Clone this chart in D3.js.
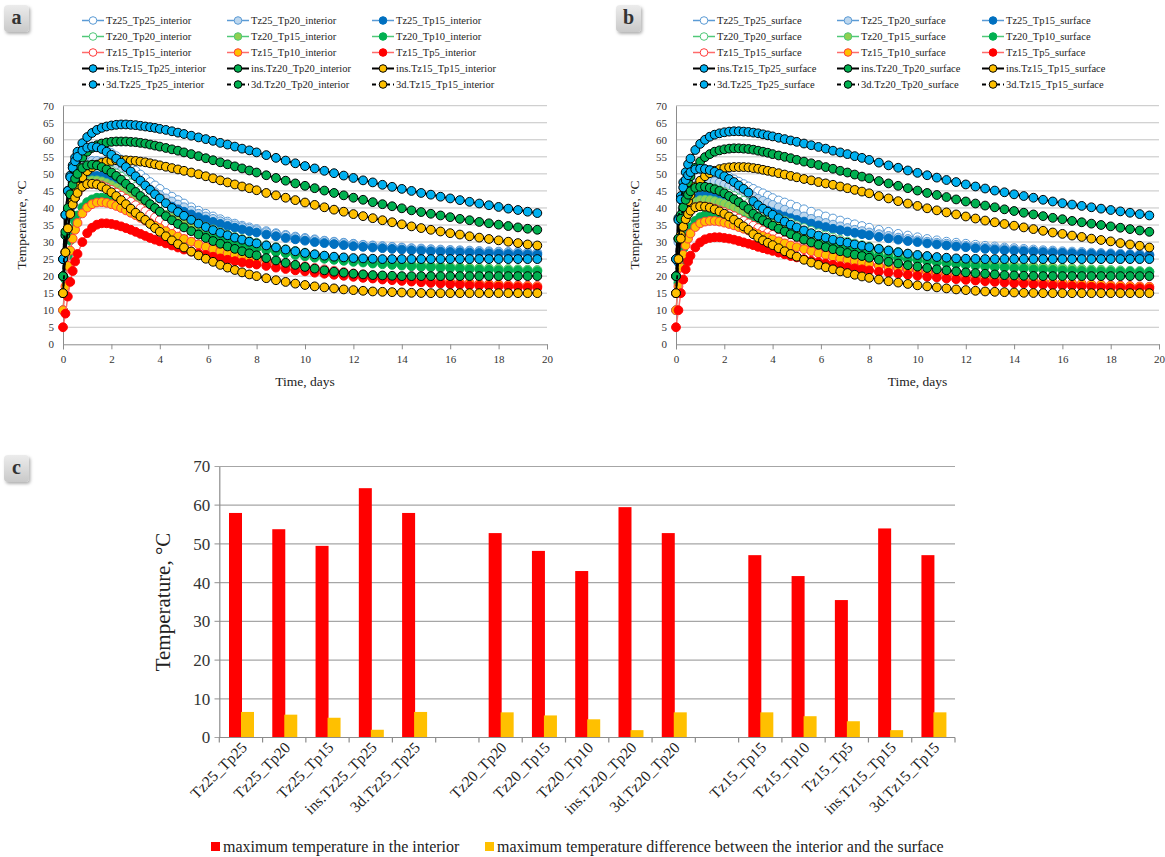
<!DOCTYPE html>
<html>
<head>
<meta charset="utf-8">
<script src="https://cdn.jsdelivr.net/npm/d3@7"></script>
<style>
  body { margin: 0; background: #fff; }
  svg, svg text { font-family: "Liberation Serif", "Times New Roman", serif; }
</style>
</head>
<body>
<svg id="chart" width="1165" height="857"></svg>
<script>
// time axis shared by every curve (days)
const days = [0, 0.1, 0.2, 0.3, 0.4, 0.5, 0.6, 0.8, 1.0, 1.2, 1.4, 1.6, 1.8, 2.0, 2.2, 2.4, 2.6, 2.8, 3.0, 3.2, 3.4, 3.6, 3.8, 4.0,
  4.25, 4.5, 4.75, 5.0, 5.3, 5.6, 5.9, 6.2, 6.5, 6.8, 7.1, 7.4, 7.7,
  8.0, 8.4, 8.8, 9.2, 9.6, 10.0, 10.4, 10.8, 11.2, 11.6, 12.0, 12.4, 12.8, 13.2, 13.6, 14.0, 14.4, 14.8, 15.2, 15.6, 16.0, 16.4, 16.8, 17.2, 17.6, 18.0, 18.4, 18.8, 19.2, 19.6];

const seriesNames = ["Tz25_Tp25", "Tz25_Tp20", "Tz25_Tp15", "Tz20_Tp20", "Tz20_Tp15", "Tz20_Tp10",
  "Tz15_Tp15", "Tz15_Tp10", "Tz15_Tp5", "ins.Tz15_Tp25", "ins.Tz20_Tp20", "ins.Tz15_Tp15",
  "3d.Tz25_Tp25", "3d.Tz20_Tp20", "3d.Tz15_Tp15"];

// ---- interior temperatures (panel a) ----
const tz25Tp25In = [25, 38, 45, 49, 51.8, 53.7, 55, 56.8, 57.7, 58, 57.9, 57.5, 56.9, 56.1, 55.2, 54.2, 53.1, 52, 50.9, 49.8, 48.7, 47.6, 46.6, 45.6,
  44.4, 43.3, 42.3, 41.3, 40.2, 39.2, 38.3, 37.5, 36.7, 36, 35.4, 34.8, 34.3,
  33.8, 33.2, 32.6, 32.1, 31.6, 31.2, 30.8, 30.4, 30.1, 29.8, 29.5, 29.2, 29, 28.8, 28.6, 28.4, 28.2, 28.1, 27.9, 27.8, 27.7, 27.6, 27.5, 27.4, 27.3, 27.2, 27.1, 27.1, 27, 26.9];
const tz25Tp20In = [20, 32, 39.5, 44, 47, 49, 50.5, 52.4, 53.4, 53.8, 53.8, 53.5, 53, 52.4, 51.6, 50.8, 49.9, 49, 48.1, 47.2, 46.3, 45.4, 44.6, 43.8,
  42.8, 41.9, 41, 40.2, 39.2, 38.3, 37.5, 36.8, 36.1, 35.5, 34.9, 34.4, 33.9,
  33.5, 32.9, 32.4, 31.9, 31.4, 31, 30.6, 30.3, 30, 29.7, 29.4, 29.1, 28.9, 28.7, 28.5, 28.3, 28.1, 27.9, 27.8, 27.6, 27.5, 27.4, 27.3, 27.2, 27.1, 27, 26.9, 26.9, 26.8, 26.7];
const tz25Tp15In = [15, 26, 33, 37.5, 40.8, 43.2, 45, 47.3, 48.6, 49.2, 49.4, 49.3, 49, 48.6, 48.1, 47.5, 46.9, 46.2, 45.5, 44.8, 44.1, 43.4, 42.7, 42,
  41.2, 40.4, 39.6, 38.9, 38.1, 37.3, 36.6, 35.9, 35.3, 34.7, 34.2, 33.7, 33.2,
  32.8, 32.2, 31.7, 31.2, 30.8, 30.4, 30, 29.7, 29.4, 29.1, 28.8, 28.6, 28.4, 28.2, 28, 27.8, 27.6, 27.5, 27.3, 27.2, 27.1, 27, 26.9, 26.8, 26.7, 26.6, 26.5, 26.5, 26.4, 26.3];
const tz20Tp20In = [20, 33, 40, 44, 46.8, 48.6, 50, 51.7, 52.5, 52.7, 52.6, 52.2, 51.6, 50.9, 50.1, 49.2, 48.2, 47.2, 46.2, 45.2, 44.2, 43.2, 42.3, 41.4,
  40.3, 39.3, 38.3, 37.4, 36.4, 35.4, 34.5, 33.7, 32.9, 32.2, 31.5, 30.9, 30.3,
  29.8, 29.1, 28.5, 27.9, 27.4, 26.9, 26.4, 26, 25.6, 25.3, 25, 24.7, 24.4, 24.2, 23.9, 23.7, 23.5, 23.3, 23.1, 23, 22.8, 22.7, 22.5, 22.4, 22.3, 22.2, 22.1, 22, 21.9, 21.8];
const tz20Tp15In = [15, 27, 34, 38.5, 41.6, 43.7, 45.2, 47, 47.9, 48.1, 48.1, 47.8, 47.3, 46.7, 46, 45.2, 44.4, 43.6, 42.8, 42, 41.2, 40.4, 39.6, 38.9,
  38, 37.1, 36.3, 35.5, 34.7, 33.9, 33.1, 32.4, 31.7, 31.1, 30.5, 30, 29.5,
  29, 28.4, 27.9, 27.4, 26.9, 26.5, 26.1, 25.7, 25.4, 25.1, 24.8, 24.5, 24.3, 24, 23.8, 23.6, 23.4, 23.2, 23, 22.9, 22.7, 22.6, 22.4, 22.3, 22.2, 22.1, 22, 21.9, 21.8, 21.7];
const tz20Tp10In = [10, 19, 26, 30.5, 33.6, 36, 37.8, 40.2, 41.7, 42.5, 43, 43, 42.8, 42.5, 42, 41.5, 40.9, 40.3, 39.7, 39, 38.4, 37.7, 37.1, 36.5,
  35.8, 35.1, 34.4, 33.8, 33.1, 32.4, 31.7, 31.1, 30.5, 30, 29.5, 29, 28.6,
  28.2, 27.6, 27.1, 26.7, 26.2, 25.8, 25.4, 25.1, 24.8, 24.5, 24.2, 24, 23.7, 23.5, 23.3, 23.1, 22.9, 22.7, 22.6, 22.4, 22.3, 22.2, 22, 21.9, 21.8, 21.7, 21.6, 21.6, 21.5, 21.4];
const tz15Tp15In = [15, 27, 34, 38.2, 41, 43, 44.4, 46.2, 47, 47.1, 47, 46.6, 46, 45.3, 44.5, 43.6, 42.7, 41.8, 40.8, 39.9, 39, 38.1, 37.2, 36.4,
  35.4, 34.4, 33.5, 32.7, 31.7, 30.8, 29.9, 29.1, 28.4, 27.7, 27.1, 26.5, 26,
  25.5, 24.9, 24.3, 23.8, 23.3, 22.9, 22.4, 22, 21.6, 21.2, 20.8, 20.5, 20.2, 19.9, 19.6, 19.3, 19.1, 18.9, 18.7, 18.5, 18.3, 18.1, 18, 17.8, 17.7, 17.6, 17.4, 17.3, 17.2, 17.1];
const tz15Tp10In = [10, 17, 23, 27.5, 31, 33.6, 35.6, 38.4, 40.1, 41.1, 41.6, 41.7, 41.5, 41.1, 40.6, 40, 39.3, 38.6, 37.9, 37.1, 36.3, 35.6, 34.8, 34.1,
  33.2, 32.4, 31.6, 30.9, 30.1, 29.3, 28.6, 27.9, 27.3, 26.7, 26.2, 25.7, 25.2,
  24.8, 24.2, 23.7, 23.2, 22.8, 22.4, 22, 21.6, 21.2, 20.9, 20.6, 20.3, 20, 19.7, 19.5, 19.2, 19, 18.8, 18.6, 18.4, 18.2, 18, 17.9, 17.7, 17.6, 17.5, 17.3, 17.2, 17.1, 17];
const tz15Tp5In = [5, 9, 14, 18.3, 21.5, 24.3, 26.5, 30, 32.6, 34.2, 35.1, 35.5, 35.5, 35.3, 35, 34.6, 34.1, 33.6, 33, 32.4, 31.8, 31.2, 30.7, 30.2,
  29.6, 29, 28.4, 27.8, 27.2, 26.7, 26.2, 25.7, 25.2, 24.8, 24.4, 24, 23.7,
  23.4, 23, 22.5, 22.1, 21.7, 21.4, 21, 20.7, 20.4, 20.1, 19.8, 19.5, 19.3, 19, 18.8, 18.6, 18.4, 18.2, 18, 17.8, 17.6, 17.5, 17.3, 17.2, 17.1, 17, 16.9, 16.8, 16.7, 16.6];
const insTz15Tp25In = [25, 38, 45, 49.5, 52.5, 54.8, 56.5, 59, 60.8, 62, 62.9, 63.5, 63.9, 64.2, 64.4, 64.5, 64.5, 64.4, 64.3, 64.1, 63.9, 63.7, 63.5, 63.2,
  62.9, 62.5, 62.1, 61.7, 61.2, 60.7, 60.2, 59.7, 59.1, 58.6, 58, 57.4, 56.9,
  56.3, 55.5, 54.7, 53.9, 53.1, 52.3, 51.6, 50.9, 50.2, 49.5, 48.8, 48.1, 47.5, 46.8, 46.2, 45.6, 45, 44.4, 43.9, 43.3, 42.8, 42.3, 41.8, 41.3, 40.8, 40.3, 39.8, 39.4, 38.9, 38.5];
const insTz20Tp20In = [20, 32, 39.5, 44, 47.5, 50, 52, 54.8, 56.5, 57.6, 58.4, 58.9, 59.2, 59.4, 59.5, 59.5, 59.5, 59.4, 59.3, 59.1, 58.9, 58.6, 58.3, 58,
  57.6, 57.2, 56.8, 56.3, 55.8, 55.2, 54.6, 54, 53.4, 52.8, 52.2, 51.6, 51,
  50.4, 49.6, 48.8, 48, 47.2, 46.5, 45.8, 45.1, 44.4, 43.7, 43, 42.4, 41.7, 41.1, 40.5, 39.9, 39.3, 38.8, 38.3, 37.8, 37.3, 36.8, 36.4, 35.9, 35.5, 35.1, 34.7, 34.3, 33.9, 33.6];
const insTz15Tp15In = [15, 27, 34, 38.5, 42, 44.5, 46.3, 49, 50.8, 51.9, 52.7, 53.2, 53.6, 53.8, 54, 54, 54, 53.9, 53.8, 53.6, 53.4, 53.1, 52.8, 52.5,
  52.1, 51.7, 51.3, 50.9, 50.4, 49.9, 49.3, 48.7, 48.1, 47.5, 46.9, 46.3, 45.8,
  45.2, 44.4, 43.7, 43, 42.3, 41.6, 40.9, 40.2, 39.5, 38.9, 38.2, 37.6, 37, 36.4, 35.8, 35.2, 34.6, 34.1, 33.6, 33.1, 32.6, 32.2, 31.7, 31.3, 30.9, 30.5, 30.1, 29.7, 29.3, 29];
const d3Tz25Tp25In = [25, 38, 45, 49, 51.8, 53.7, 55, 56.8, 57.7, 58, 57.8, 57.3, 56.5, 55.6, 54.5, 53.3, 52, 50.7, 49.3, 48, 46.6, 45.3, 44, 42.8,
  41.4, 40, 38.8, 37.7, 36.5, 35.4, 34.4, 33.5, 32.7, 32, 31.3, 30.7, 30.1,
  29.6, 29, 28.4, 27.8, 27.3, 26.8, 26.4, 26, 25.7, 25.5, 25.3, 25.2, 25.1, 25, 25, 25, 25, 25, 25, 25, 25, 25, 25, 25, 25, 25, 25, 25, 25, 25];
const d3Tz20Tp20In = [20, 33, 40, 44, 46.8, 48.6, 50, 51.7, 52.5, 52.7, 52.5, 52, 51.3, 50.4, 49.4, 48.3, 47.1, 45.9, 44.7, 43.5, 42.3, 41.1, 40, 38.9,
  37.6, 36.4, 35.3, 34.3, 33.2, 32.2, 31.2, 30.3, 29.5, 28.7, 28, 27.3, 26.7,
  26.1, 25.3, 24.6, 23.9, 23.3, 22.7, 22.2, 21.7, 21.3, 21, 20.7, 20.5, 20.3, 20.2, 20.1, 20, 20, 20, 20, 20, 20, 20, 20, 20, 20, 20, 20, 20, 20, 20];
const d3Tz15Tp15In = [15, 27, 34, 38.2, 41, 43, 44.4, 46.2, 47, 47.1, 46.9, 46.3, 45.5, 44.6, 43.5, 42.3, 41.1, 39.8, 38.6, 37.5, 36.5, 35.3, 34.1, 33,
  31.7, 30.5, 29.4, 28.4, 27.2, 26.1, 25.1, 24.2, 23.3, 22.5, 21.8, 21.1, 20.5,
  20, 19.4, 18.8, 18.3, 17.8, 17.4, 17, 16.7, 16.4, 16.1, 15.9, 15.7, 15.5, 15.4, 15.3, 15.2, 15.1, 15.05, 15, 15, 15, 15, 15, 15, 15, 15, 15, 15, 15, 15];

// ---- surface temperatures (panel b) ----
const tz25Tp25Sf = [25, 36.5, 42.5, 46, 48.2, 49.6, 50.5, 51.3, 51.5, 51.4, 51.2, 50.8, 50.3, 49.7, 49.1, 48.4, 47.7, 47, 46.3, 45.6, 44.9, 44.3, 43.6, 42.9,
  42.2, 41.6, 41, 40.3, 39.6, 38.9, 38.2, 37.5, 36.9, 36.3, 35.7, 35.2, 34.7,
  34.2, 33.6, 33, 32.4, 31.9, 31.4, 30.9, 30.5, 30.1, 29.8, 29.5, 29.2, 28.9, 28.7, 28.4, 28.2, 28, 27.8, 27.6, 27.5, 27.3, 27.2, 27.1, 26.9, 26.8, 26.7, 26.6, 26.5, 26.5, 26.4];
const tz25Tp20Sf = [20, 30, 36, 39.8, 42.5, 44.4, 45.7, 47.2, 47.9, 48.1, 48, 47.8, 47.4, 46.9, 46.4, 45.8, 45.2, 44.6, 44, 43.4, 42.7, 42.1, 41.5, 40.9,
  40.2, 39.5, 38.8, 38.2, 37.5, 36.8, 36.2, 35.6, 35.1, 34.6, 34.1, 33.6, 33.2,
  32.8, 32.3, 31.8, 31.3, 30.9, 30.5, 30.1, 29.8, 29.5, 29.2, 28.9, 28.6, 28.4, 28.2, 28, 27.8, 27.6, 27.4, 27.3, 27.2, 27, 26.9, 26.8, 26.7, 26.6, 26.5, 26.4, 26.3, 26.3, 26.2];
const tz25Tp15Sf = [15, 24, 30, 34, 37, 39.2, 40.8, 42.8, 43.9, 44.4, 44.5, 44.4, 44.1, 43.8, 43.4, 42.9, 42.4, 41.9, 41.4, 40.8, 40.3, 39.7, 39.2, 38.7,
  38.1, 37.5, 37, 36.5, 36, 35.4, 34.9, 34.4, 33.9, 33.5, 33.1, 32.7, 32.3,
  32, 31.5, 31.1, 30.7, 30.3, 30, 29.6, 29.3, 29, 28.7, 28.5, 28.2, 28, 27.8, 27.6, 27.5, 27.3, 27.2, 27, 26.9, 26.8, 26.7, 26.6, 26.5, 26.4, 26.4, 26.3, 26.2, 26.1, 26.1];
const tz20Tp20Sf = [20, 31, 36.8, 40.2, 42.4, 43.9, 44.9, 45.9, 46.2, 46.2, 46, 45.7, 45.2, 44.7, 44.1, 43.5, 42.8, 42.1, 41.4, 40.7, 40, 39.3, 38.6, 37.9,
  37.1, 36.3, 35.6, 34.9, 34.1, 33.3, 32.6, 31.9, 31.3, 30.7, 30.1, 29.6, 29.1,
  28.7, 28.1, 27.6, 27.1, 26.6, 26.2, 25.8, 25.4, 25.1, 24.8, 24.5, 24.2, 24, 23.7, 23.5, 23.3, 23.1, 22.9, 22.7, 22.6, 22.4, 22.3, 22.1, 22, 21.9, 21.8, 21.7, 21.6, 21.5, 21.4];
const tz20Tp15Sf = [15, 25, 31, 35, 37.6, 39.4, 40.6, 41.8, 42.3, 42.4, 42.3, 42, 41.6, 41.2, 40.7, 40.2, 39.6, 39.1, 38.5, 37.9, 37.3, 36.7, 36.2, 35.6,
  35, 34.3, 33.7, 33.1, 32.4, 31.8, 31.2, 30.6, 30.1, 29.6, 29.1, 28.6, 28.2,
  27.8, 27.3, 26.8, 26.4, 26, 25.6, 25.3, 25, 24.7, 24.4, 24.1, 23.9, 23.6, 23.4, 23.2, 23, 22.8, 22.7, 22.5, 22.4, 22.2, 22.1, 22, 21.9, 21.8, 21.7, 21.6, 21.5, 21.4, 21.3];
const tz20Tp10Sf = [10, 18, 24, 28, 30.8, 32.8, 34.3, 36.2, 37.3, 37.9, 38.2, 38.3, 38.2, 38, 37.7, 37.3, 36.9, 36.4, 35.9, 35.4, 34.9, 34.4, 33.9, 33.4,
  32.8, 32.2, 31.7, 31.1, 30.5, 29.9, 29.4, 28.9, 28.4, 28, 27.6, 27.2, 26.8,
  26.5, 26, 25.6, 25.2, 24.9, 24.6, 24.3, 24, 23.7, 23.5, 23.2, 23, 22.8, 22.6, 22.5, 22.3, 22.2, 22, 21.9, 21.8, 21.7, 21.6, 21.5, 21.5, 21.4, 21.4, 21.3, 21.3, 21.2, 21.2];
const tz15Tp15Sf = [15, 25, 31, 34.5, 36.7, 38.2, 39.2, 40.2, 40.5, 40.4, 40.2, 39.8, 39.3, 38.8, 38.2, 37.6, 36.9, 36.2, 35.5, 34.8, 34.1, 33.4, 32.7, 32.1,
  31.3, 30.5, 29.8, 29.1, 28.4, 27.7, 27, 26.4, 25.8, 25.3, 24.8, 24.3, 23.9,
  23.5, 23, 22.5, 22.1, 21.7, 21.3, 21, 20.7, 20.4, 20.1, 19.8, 19.6, 19.3, 19.1, 18.9, 18.7, 18.5, 18.3, 18.1, 18, 17.8, 17.7, 17.5, 17.4, 17.3, 17.2, 17.1, 17, 16.9, 16.8];
const tz15Tp10Sf = [10, 17, 22.5, 26.3, 29, 31, 32.5, 34.4, 35.5, 36, 36.2, 36.2, 36, 35.7, 35.3, 34.9, 34.4, 33.9, 33.4, 32.9, 32.3, 31.8, 31.3, 30.8,
  30.2, 29.6, 29, 28.5, 27.9, 27.3, 26.7, 26.2, 25.7, 25.2, 24.8, 24.4, 24,
  23.6, 23.1, 22.7, 22.3, 21.9, 21.6, 21.2, 20.9, 20.6, 20.3, 20.1, 19.8, 19.6, 19.4, 19.2, 19, 18.8, 18.6, 18.4, 18.2, 18.1, 17.9, 17.8, 17.6, 17.5, 17.3, 17.2, 17.1, 17, 16.9];
const tz15Tp5Sf = [5, 10, 15, 19, 22, 24.3, 26, 28.4, 29.9, 30.8, 31.2, 31.4, 31.4, 31.2, 31, 30.7, 30.3, 29.9, 29.5, 29.1, 28.6, 28.2, 27.8, 27.4,
  26.9, 26.4, 25.9, 25.5, 25, 24.5, 24.1, 23.7, 23.3, 22.9, 22.6, 22.3, 22,
  21.7, 21.3, 21, 20.7, 20.4, 20.1, 19.8, 19.6, 19.3, 19.1, 18.9, 18.7, 18.5, 18.3, 18.1, 17.9, 17.8, 17.6, 17.5, 17.3, 17.2, 17.1, 17, 16.9, 16.8, 16.7, 16.6, 16.5, 16.5, 16.4];
const insTz15Tp25Sf = [25, 37, 43.5, 47.5, 50.5, 52.8, 54.5, 57, 58.8, 60, 60.9, 61.5, 61.9, 62.2, 62.4, 62.5, 62.5, 62.4, 62.3, 62.1, 61.9, 61.6, 61.3, 61,
  60.6, 60.2, 59.8, 59.4, 58.9, 58.4, 57.9, 57.4, 56.8, 56.3, 55.8, 55.2, 54.7,
  54.1, 53.3, 52.5, 51.8, 51, 50.3, 49.6, 48.9, 48.2, 47.6, 46.9, 46.3, 45.7, 45.1, 44.6, 44, 43.5, 43, 42.4, 41.9, 41.4, 41, 40.6, 40.2, 39.8, 39.4, 39, 38.6, 38.2, 37.8];
const insTz20Tp20Sf = [20, 31, 38, 42.2, 45.2, 47.5, 49.3, 51.8, 53.6, 54.9, 55.8, 56.5, 56.9, 57.2, 57.4, 57.5, 57.5, 57.4, 57.3, 57.1, 56.8, 56.5, 56.2, 55.8,
  55.4, 55, 54.6, 54.1, 53.6, 53.1, 52.6, 52, 51.5, 50.9, 50.4, 49.8, 49.2,
  48.7, 47.9, 47.2, 46.5, 45.8, 45.1, 44.4, 43.8, 43.2, 42.5, 41.9, 41.3, 40.7, 40.2, 39.6, 39.1, 38.6, 38.1, 37.6, 37.1, 36.7, 36.2, 35.8, 35.4, 35, 34.6, 34.2, 33.8, 33.4, 33];
const insTz15Tp15Sf = [15, 25, 32, 36.5, 39.7, 42, 43.8, 46.3, 48, 49.3, 50.2, 50.9, 51.4, 51.7, 51.9, 52, 52, 52, 51.9, 51.7, 51.5, 51.2, 50.9, 50.6,
  50.2, 49.8, 49.4, 49, 48.5, 48.1, 47.6, 47.2, 46.8, 46.3, 45.8, 45.3, 44.8,
  44.3, 43.5, 42.8, 42, 41.3, 40.6, 39.9, 39.3, 38.7, 38.1, 37.5, 36.9, 36.3, 35.8, 35.3, 34.8, 34.3, 33.8, 33.3, 32.8, 32.4, 31.9, 31.5, 31, 30.6, 30.2, 29.7, 29.3, 28.9, 28.4];
const d3Tz25Tp25Sf = [25, 36.5, 42.5, 46, 48.2, 49.6, 50.5, 51.3, 51.5, 51.4, 51.1, 50.6, 50, 49.3, 48.5, 47.6, 46.6, 45.6, 44.5, 42, 40.8, 39.8, 38.9, 38,
  37, 36, 35.1, 34.3, 33.4, 32.6, 31.9, 31.3, 30.7, 30.2, 29.8, 29.3, 28.9,
  28.5, 28, 27.5, 27, 26.6, 26.2, 25.9, 25.6, 25.4, 25.2, 25.1, 25.05, 25, 25, 25, 25, 25, 25, 25, 25, 25, 25, 25, 25, 25, 25, 25, 25, 25, 25];
const d3Tz20Tp20Sf = [20, 31, 36.8, 40.2, 42.4, 43.9, 44.9, 45.9, 46.2, 46.2, 45.9, 45.5, 45, 44.3, 43.5, 42.6, 41.7, 40.7, 39.7, 38.3, 37.3, 36.4, 35.6, 34.8,
  33.9, 33.1, 32.3, 31.5, 30.7, 29.9, 29.2, 28.5, 27.9, 27.3, 26.8, 26.3, 25.9,
  25.4, 24.8, 24.2, 23.7, 23.2, 22.8, 22.4, 22, 21.7, 21.4, 21.1, 20.9, 20.7, 20.5, 20.3, 20.2, 20.1, 20.05, 20, 20, 20, 20, 20, 20, 20, 20, 20, 20, 20, 20];
const d3Tz15Tp15Sf = [15, 25, 31, 34.5, 36.7, 38.2, 39.2, 40.2, 40.5, 40.4, 40.1, 39.6, 39, 38.3, 37.5, 36.6, 35.6, 34.6, 33.6, 32.3, 31.3, 30.5, 29.8, 29.1,
  28.2, 27.3, 26.5, 25.7, 24.8, 24, 23.3, 22.6, 22, 21.4, 20.9, 20.4, 19.9,
  19.5, 19, 18.5, 18.1, 17.7, 17.3, 17, 16.7, 16.4, 16.1, 15.9, 15.7, 15.5, 15.4, 15.3, 15.2, 15.1, 15.05, 15, 15, 15, 15, 15, 15, 15, 15, 15, 15, 15, 15];

const interiorValues = [tz25Tp25In, tz25Tp20In, tz25Tp15In, tz20Tp20In, tz20Tp15In, tz20Tp10In, tz15Tp15In, tz15Tp10In, tz15Tp5In,
  insTz15Tp25In, insTz20Tp20In, insTz15Tp15In, d3Tz25Tp25In, d3Tz20Tp20In, d3Tz15Tp15In];
const surfaceValues = [tz25Tp25Sf, tz25Tp20Sf, tz25Tp15Sf, tz20Tp20Sf, tz20Tp15Sf, tz20Tp10Sf, tz15Tp15Sf, tz15Tp10Sf, tz15Tp5Sf,
  insTz15Tp25Sf, insTz20Tp20Sf, insTz15Tp15Sf, d3Tz25Tp25Sf, d3Tz20Tp20Sf, d3Tz15Tp15Sf];

// ---- panel c ----
const barCategories = ["Tz25_Tp25", "Tz25_Tp20", "Tz25_Tp15", "ins.Tz25_Tp25", "3d.Tz25_Tp25", "",
  "Tz20_Tp20", "Tz20_Tp15", "Tz20_Tp10", "ins.Tz20_Tp20", "3d.Tz20_Tp20", "",
  "Tz15_Tp15", "Tz15_Tp10", "Tz15_Tp5", "ins.Tz15_Tp15", "3d.Tz15_Tp15"];
const maxInterior = [58, 53.8, 49.5, 64.4, 58, null, 52.8, 48.2, 43, 59.5, 52.8, null, 47.1, 41.7, 35.5, 54, 47.1];
const maxDifference = [6.6, 5.9, 5.1, 2, 6.6, null, 6.5, 5.7, 4.7, 1.9, 6.5, null, 6.5, 5.5, 4.2, 1.9, 6.5];
const barLegend = ["maximum temperature in the interior", "maximum temperature difference between the interior and the surface"];

const xTicksA = d3.range(0, 21, 2);
const yTicksA = d3.range(0, 71, 5);
const yTicksC = d3.range(0, 71, 10);

// ---- styles ----
const serif = "Liberation Serif";
const styles = [
  { line: "#5B9BD5", fill: "#fff", stroke: "#5B9BD5" },
  { line: "#5B9BD5", fill: "#BDD7EE", stroke: "#5B9BD5" },
  { line: "#5B9BD5", fill: "#0070C0", stroke: "#0070C0" },
  { line: "#50C878", fill: "#fff", stroke: "#50C878" },
  { line: "#50C878", fill: "#92D050", stroke: "#50C878" },
  { line: "#50C878", fill: "#00B050", stroke: "#00B050" },
  { line: "#FF6B6B", fill: "#fff", stroke: "#FF3B3B" },
  { line: "#FF6B6B", fill: "#FFC000", stroke: "#FF3B3B" },
  { line: "#FF6B6B", fill: "#FF0000", stroke: "#FF0000" },
  { line: "#000", fill: "#00B0F0", stroke: "#000" },
  { line: "#000", fill: "#00B050", stroke: "#000" },
  { line: "#000", fill: "#FFC000", stroke: "#000" },
  { line: "#000", fill: "#00B0F0", stroke: "#000", dash: "4,3" },
  { line: "#000", fill: "#00B050", stroke: "#000", dash: "4,3" },
  { line: "#000", fill: "#FFC000", stroke: "#000", dash: "4,3" }
];

const svg = d3.select("#chart");

// drop shadow for the panel letters
const defs = svg.append("defs");
const grad = defs.append("linearGradient").attr("id", "badge").attr("x1", 0).attr("y1", 0).attr("x2", 0).attr("y2", 1);
grad.append("stop").attr("offset", "0%").attr("stop-color", "#ececec");
grad.append("stop").attr("offset", "100%").attr("stop-color", "#c9c9c9");
const shadow = defs.append("filter").attr("id", "shadow").attr("x", "-30%").attr("y", "-30%").attr("width", "170%").attr("height", "170%");
shadow.append("feDropShadow").attr("dx", 1.5).attr("dy", 2).attr("stdDeviation", 1.5).attr("flood-color", "#000").attr("flood-opacity", 0.3);

function badge(x, y, letter) {
  svg.append("rect").attr("x", x).attr("y", y).attr("width", 25).attr("height", 27).attr("rx", 4)
    .attr("fill", "url(#badge)").attr("filter", "url(#shadow)");
  svg.append("text").attr("x", x + 12.5).attr("y", y + 19).attr("text-anchor", "middle")
    .attr("font-family", serif).attr("font-size", 20).attr("font-weight", "bold").attr("fill", "#333").text(letter);
}

function linePanel(opts) {
  const x = d3.scaleLinear().domain([0, 20]).range([opts.left, opts.right]);
  const y = d3.scaleLinear().domain([0, 70]).range([344.3, 105.7]);
  const g = svg.append("g");

  g.append("g").selectAll("line").data(yTicksA.slice(1)).join("line")
    .attr("x1", opts.left).attr("x2", opts.right)
    .attr("y1", d => y(d)).attr("y2", d => y(d))
    .attr("stroke", "#c4c4c4").attr("stroke-width", 1);

  // x axis
  g.append("g").attr("transform", `translate(0,${y(0)})`)
    .call(d3.axisBottom(x).tickValues(xTicksA).tickSize(5).tickPadding(6))
    .call(a => a.select(".domain").attr("stroke", "#8c8c8c"))
    .call(a => a.selectAll(".tick line").attr("stroke", "#8c8c8c"))
    .call(a => a.selectAll("text").attr("font-size", 11).attr("fill", "#333").attr("font-family", serif));

  // y axis
  g.append("g").attr("transform", `translate(${opts.left},0)`)
    .call(d3.axisLeft(y).tickValues(yTicksA).tickSize(0).tickPadding(9))
    .call(a => a.select(".domain").attr("stroke", "#8c8c8c"))
    .call(a => a.selectAll("text").attr("font-size", 11).attr("fill", "#333").attr("font-family", serif));

  g.append("text").attr("x", (opts.left + opts.right) / 2).attr("y", 386)
    .attr("text-anchor", "middle").attr("font-family", serif).attr("font-size", 13.5).attr("fill", "#222").text("Time, days");
  g.append("text").attr("transform", `translate(${opts.left - 37},225) rotate(-90)`)
    .attr("text-anchor", "middle").attr("font-family", serif).attr("font-size", 13.5).attr("fill", "#222").text("Temperature, °C");

  const line = d3.line().x((d, i) => x(days[i])).y(d => y(d));

  opts.values.forEach((vals, k) => {
    const s = styles[k];
    const sg = g.append("g");
    sg.append("path").datum(vals).attr("d", line).attr("fill", "none")
      .attr("stroke", s.line).attr("stroke-width", s.line === "#000" ? 1.8 : 1.5)
      .attr("stroke-dasharray", s.dash || null);
    sg.selectAll("circle").data(vals).join("circle")
      .attr("cx", (d, i) => x(days[i])).attr("cy", d => y(d))
      .attr("r", 4.4).attr("fill", s.fill).attr("stroke", s.stroke).attr("stroke-width", 1);
  });

  // legend
  const lg = svg.append("g");
  seriesNames.forEach((name, k) => {
    const s = styles[k];
    const lx = opts.legendX[k % 3];
    const ly = 20.5 + Math.floor(k / 3) * 16;
    lg.append("line").attr("x1", lx).attr("x2", lx + 22).attr("y1", ly).attr("y2", ly)
      .attr("stroke", s.line).attr("stroke-width", s.line === "#000" ? 2 : 1.5)
      .attr("stroke-dasharray", s.dash || null);
    lg.append("circle").attr("cx", lx + 11).attr("cy", ly).attr("r", 3.8)
      .attr("fill", s.fill).attr("stroke", s.stroke).attr("stroke-width", 1);
    lg.append("text").attr("x", lx + 24).attr("y", ly + 3.8).attr("font-family", serif)
      .attr("font-size", 10.5).attr("fill", "#222").text(name + opts.suffix);
  });
}

badge(4, 5, "a");
badge(616, 5, "b");
badge(4, 455, "c");

linePanel({ left: 63, right: 547, values: interiorValues, legendX: [82, 227, 372], suffix: "_interior" });
linePanel({ left: 676, right: 1159, values: surfaceValues, legendX: [693, 837, 982], suffix: "_surface" });

// ---- panel c: bar chart ----
const cx = d3.scaleBand().domain(d3.range(barCategories.length)).range([219.3, 955]).paddingInner(0).paddingOuter(0);
const cy = d3.scaleLinear().domain([0, 70]).range([737.5, 466.5]);
const gc = svg.append("g");

gc.append("g").selectAll("line").data(yTicksC).join("line")
  .attr("x1", 214.5).attr("x2", 955)
  .attr("y1", d => cy(d)).attr("y2", d => cy(d))
  .attr("stroke", "#a6a6a6").attr("stroke-width", 1.2);

gc.append("g").attr("transform", "translate(219.3,0)")
  .call(d3.axisLeft(cy).tickValues(yTicksC).tickSize(0).tickPadding(9))
  .call(a => a.select(".domain").attr("stroke", "#8c8c8c").attr("stroke-width", 1.2))
  .call(a => a.selectAll("text").attr("font-size", 17).attr("fill", "#333").attr("font-family", serif));

gc.append("text").attr("transform", "translate(170,602) rotate(-90)")
  .attr("text-anchor", "middle").attr("font-family", serif).attr("font-size", 21).attr("fill", "#222").text("Temperature, °C");

const bw = 13;
const redBars = maxInterior.map((v, i) => ({ v, i })).filter(d => d.v !== null);
const yellowBars = maxDifference.map((v, i) => ({ v, i })).filter(d => d.v !== null);
gc.append("g").selectAll("rect").data(redBars).join("rect")
  .attr("x", d => cx(d.i) + 9.7).attr("width", bw)
  .attr("y", d => cy(d.v)).attr("height", d => cy(0) - cy(d.v))
  .attr("fill", "#FF0000");
gc.append("g").selectAll("rect").data(yellowBars).join("rect")
  .attr("x", d => cx(d.i) + 21.7).attr("width", bw)
  .attr("y", d => cy(d.v)).attr("height", d => cy(0) - cy(d.v))
  .attr("fill", "#FFC000");

// x axis with category boundaries as ticks
gc.append("line").attr("x1", 219.3).attr("x2", 955).attr("y1", cy(0)).attr("y2", cy(0))
  .attr("stroke", "#8c8c8c").attr("stroke-width", 1.2);
gc.append("g").selectAll("line").data(d3.range(barCategories.length + 1)).join("line")
  .attr("x1", i => 219.3 + i * cx.bandwidth()).attr("x2", i => 219.3 + i * cx.bandwidth())
  .attr("y1", cy(0)).attr("y2", cy(0) + 5)
  .attr("stroke", "#8c8c8c").attr("stroke-width", 1.2);

gc.append("g").selectAll("text").data(barCategories).join("text")
  .attr("transform", (d, i) => `translate(${cx(i) + cx.bandwidth() / 2 + 7},${cy(0) + 11}) rotate(-45)`)
  .attr("text-anchor", "end").attr("font-family", serif).attr("font-size", 15.5).attr("fill", "#222").text(d => d);

// legend of panel c
const legC = [{ x: 211, color: "#FF0000" }, { x: 485, color: "#FFC000" }];
legC.forEach((l, i) => {
  gc.append("rect").attr("x", l.x).attr("y", 842).attr("width", 9).attr("height", 9).attr("fill", l.color);
  gc.append("text").attr("x", l.x + 12).attr("y", 851.5).attr("font-family", serif)
    .attr("font-size", 16).attr("fill", "#222").text(barLegend[i]);
});
</script>
</body>
</html>
